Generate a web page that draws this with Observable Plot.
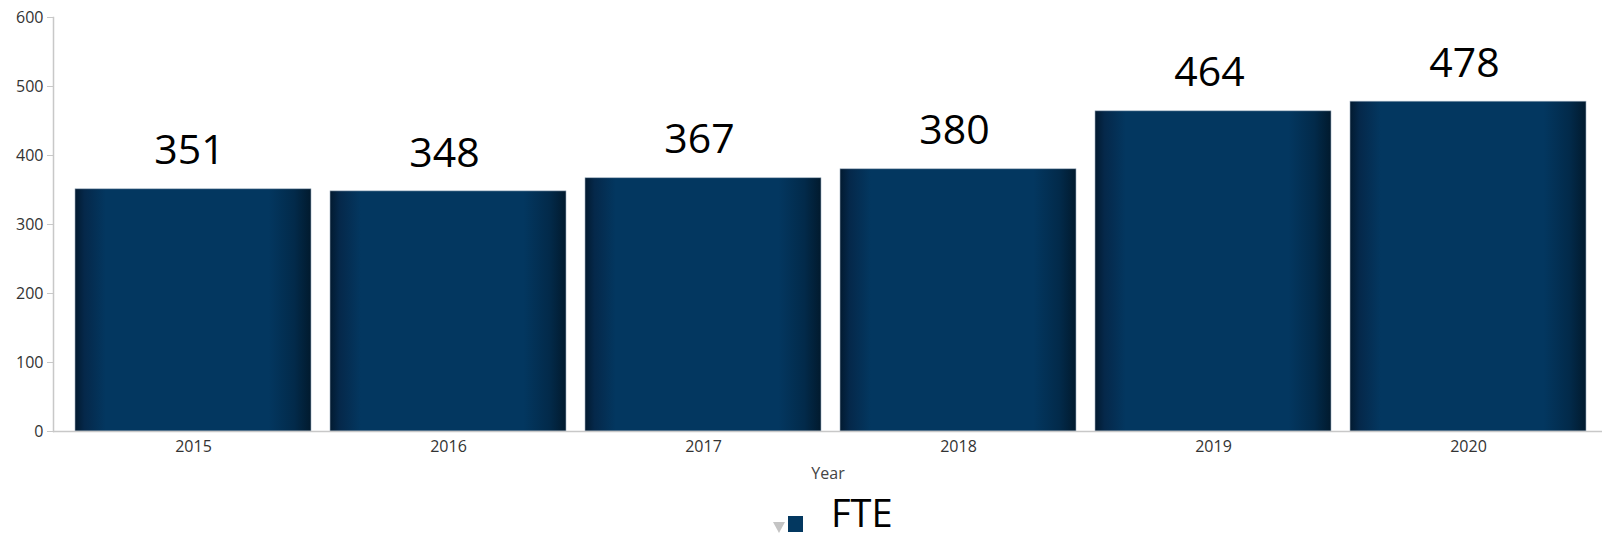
<!DOCTYPE html>
<html>
<head>
<meta charset="utf-8">
<script src="https://cdn.jsdelivr.net/npm/d3@7"></script>
<script src="https://cdn.jsdelivr.net/npm/@observablehq/plot@0.6"></script>
<style>
  html, body { margin: 0; padding: 0; background: #fff; overflow: hidden; }
  #wrap { position: relative; width: 1602px; height: 541px; overflow: hidden; }
  #legend { position: relative; width: 1602px; height: 46px; }
  #legend .tri { position: absolute; left: 773px; top: 27px; width: 0; height: 0;
    border-left: 6px solid transparent; border-right: 6px solid transparent; border-top: 11px solid #c4c4c4; }
  #legend .sq { position: absolute; left: 788px; top: 21px; width: 15px; height: 16px; background: #033860; }
  #legend .lab { position: absolute; left: 831px; top: -2px; font: 38px "Open Sans", sans-serif; line-height: 1; color: #000; }
</style>
</head>
<body>
<div id="wrap">
  <div id="chart"></div>
  <div id="legend"><div class="tri"></div><div class="sq"></div><div class="lab">FTE</div></div>
</div>
<script>
const years = ["2015", "2016", "2017", "2018", "2019", "2020"];
const fte = [351, 348, 367, 380, 464, 478];
const yTicks = [0, 100, 200, 300, 400, 500, 600];
const xLabel = "Year";

const data = years.map((y, i) => ({year: y, value: fte[i]}));

const chart = Plot.plot({
  width: 1602,
  height: 495,
  marginTop: 17,
  marginBottom: 64,
  marginLeft: 53,
  marginRight: 0,
  style: {fontFamily: "'Open Sans', sans-serif", background: "#fff"},
  x: {domain: years, range: [74, 1586], paddingInner: 0.075, paddingOuter: 0, label: null},
  y: {domain: [0, 600], label: null},
  marks: [
    Plot.barY(data, {x: "year", y: "value", fill: "url(#barGrad)", stroke: "#9fb0c0", strokeWidth: 0.6}),
    Plot.frame({anchor: "left", stroke: "#c8c8c8", strokeWidth: 1.5}),
    Plot.ruleY([0], {stroke: "#c8c8c8", strokeWidth: 1.5}),
    Plot.axisY({ticks: yTicks, tickSize: 6, tickPadding: 4, stroke: "#c8c8c8", fill: "#333", fontSize: 16, tickFormat: d => String(d)}),
    Plot.axisX({tickSize: 0, tickPadding: 9, fill: "#333", fontSize: 16, label: null}),
    Plot.text([xLabel], {frameAnchor: "bottom", dy: 47, fill: "#444", fontSize: 16}),
    Plot.text(data, {x: "year", y: "value", text: d => String(d.value), lineAnchor: "middle", dy: -38, dx: -4, fontSize: 41, fill: "#000"})
  ]
});

const svg = d3.select(chart);
const defs = svg.insert("defs", ":first-child");
const g = defs.append("linearGradient").attr("id", "barGrad").attr("x1", "0").attr("x2", "1").attr("y1", "0").attr("y2", "0");
[[0, "#021a30"], [0.04, "#05284a"], [0.13, "#033760"], [0.82, "#033760"], [0.93, "#022a4a"], [1, "#011a2e"]]
  .forEach(([o, c]) => g.append("stop").attr("offset", o).attr("stop-color", c));

document.getElementById("chart").appendChild(chart);
</script>
</body>
</html>
